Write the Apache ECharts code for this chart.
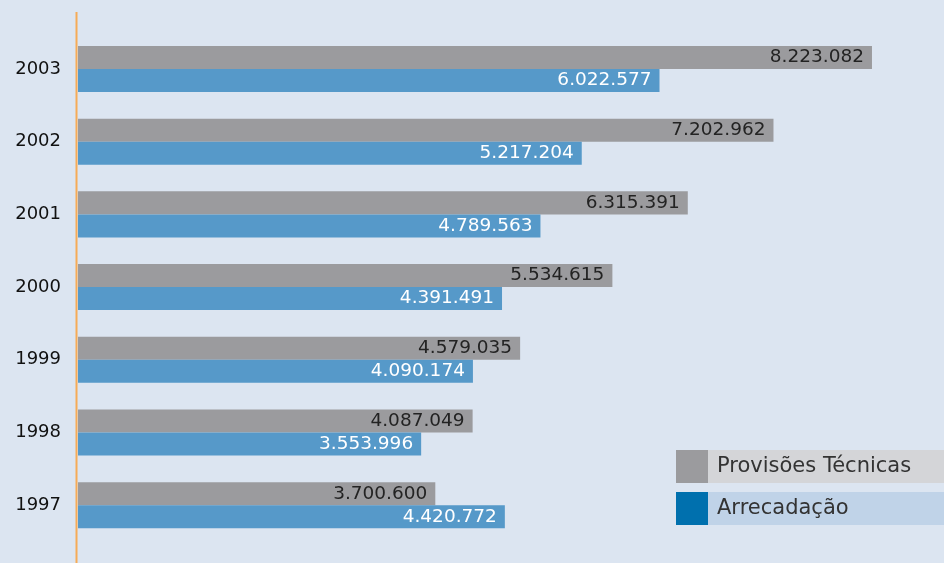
<!DOCTYPE html>
<html><head><meta charset="utf-8">
<script src="https://cdn.jsdelivr.net/npm/echarts@6/dist/echarts.min.js"></script>
<style>html,body{margin:0;padding:0;background:#dce5f1;}#c{width:944px;height:563px;}</style>
</head><body><div id="c"></div>
<script>
const years = ['1997','1998','1999','2000','2001','2002','2003'];
const provisoes = [3700600, 4087049, 4579035, 5534615, 6315391, 7202962, 8223082];
const arrecadacao = [4420772, 3553996, 4090174, 4391491, 4789563, 5217204, 6022577];
const seriesNames = ['Provisões Técnicas', 'Arrecadação'];

const fmt = v => String(v).replace(/\B(?=(\d{3})+(?!\d))/g, '.');
const FONT = 'DejaVu Sans';
const chart = echarts.init(document.getElementById('c'));
chart.setOption({
  backgroundColor: '#dce5f1',
  animation: false,
  textStyle: { fontFamily: FONT },
  grid: { left: 78, top: 32.6, right: 0, height: 509, containLabel: false },
  xAxis: { type: 'value', min: 0, max: 8969000, show: false },
  yAxis: {
    type: 'category', data: years,
    axisLine: { show: false }, axisTick: { show: false }, splitLine: { show: false },
    axisLabel: { margin: 17, fontSize: 18, color: '#111111', fontFamily: FONT }
  },
  legend: {
    orient: 'vertical', left: 676, top: 450, padding: 0, itemWidth: 32, itemHeight: 33, itemGap: 9,
    icon: 'rect', selectedMode: false,
    textStyle: { fontSize: 21, color: '#333', fontFamily: FONT, padding: [0, 0, 0, 4] },
    data: [
      { name: seriesNames[0], itemStyle: { color: '#9b9b9e' } },
      { name: seriesNames[1], itemStyle: { color: '#0070ae' } }
    ]
  },
  graphic: [
    { type: 'rect', z: -1, shape: { x: 708, y: 450, width: 236, height: 33 }, style: { fill: '#d4d5d8' } },
    { type: 'rect', z: -1, shape: { x: 708, y: 492, width: 236, height: 33 }, style: { fill: '#c0d3e8' } },
    { type: 'line', shape: { x1: 76.5, y1: 12, x2: 76.5, y2: 563 }, style: { stroke: '#f6ab57', lineWidth: 2 } }
  ],
  series: [
    {
      name: seriesNames[0], type: 'bar', data: provisoes, barGap: '0%', barCategoryGap: '36.7%',
      itemStyle: { color: '#9b9b9e' },
      label: { show: true, position: 'insideRight', distance: 8, color: '#232323', fontSize: 18.5, fontFamily: FONT, formatter: p => fmt(p.value) }
    },
    {
      name: seriesNames[1], type: 'bar', data: arrecadacao, barGap: '0%', barCategoryGap: '36.7%',
      itemStyle: { color: '#5699c9' },
      label: { show: true, position: 'insideRight', distance: 8, color: '#ffffff', fontSize: 18.5, fontFamily: FONT, formatter: p => fmt(p.value) }
    }
  ]
});
</script></body></html>
